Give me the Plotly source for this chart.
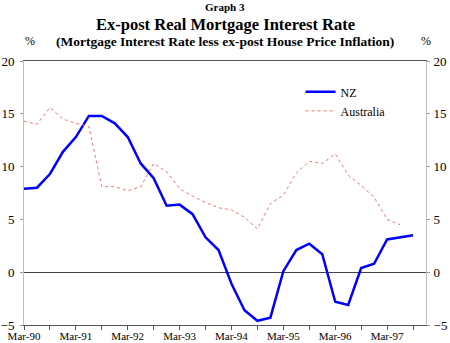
import plotly.graph_objects as go

quarters = [f"{m}-{y:02d}" for y in range(90, 98) for m in ("Mar", "Jun", "Sep", "Dec")]
tick_labels = ["Mar-90", "", "Mar-91", "", "Mar-92", "", "Mar-93", "", "Mar-94", "",
               "Mar-95", "", "Mar-96", "", "Mar-97", ""]

nz = [7.9, 8.0, 9.3, 11.4, 12.8, 14.8, 14.8, 14.1, 12.8, 10.3, 8.9, 6.3, 6.4, 5.5, 3.3, 2.1,
      -1.1, -3.6, -4.6, -4.3, 0.1, 2.1, 2.7, 1.7, -2.8, -3.1, 0.4, 0.8, 3.1, 3.3, 3.5]
australia = [14.3, 14.0, 15.6, 14.5, 14.1, 13.8, 8.1, 8.1, 7.7, 8.1, 10.3, 9.5, 7.9, 7.2, 6.6, 6.1,
             5.9, 5.2, 4.1, 6.5, 7.3, 9.4, 10.5, 10.3, 11.2, 9.2, 8.2, 7.1, 5.0, 4.5]

FONT = "Liberation Serif"

fig = go.Figure()
fig.add_trace(go.Scatter(x=quarters[:len(nz)], y=nz, name="NZ", mode="lines",
                         line=dict(color="#0000ff", width=2.5)))
fig.add_trace(go.Scatter(x=quarters[:len(australia)], y=australia, name="Australia", mode="lines",
                         line=dict(color="#ff7272", width=1, dash="dot")))
fig.add_trace(go.Scatter(x=quarters[:len(nz)], y=nz, yaxis="y2", mode="lines",
                         line=dict(width=0), opacity=0, showlegend=False, hoverinfo="skip"))

fig.update_layout(
    width=450, height=343,
    margin=dict(l=24, r=24, t=61, b=18),
    paper_bgcolor="white", plot_bgcolor="white",
    font=dict(family=FONT, size=12, color="black"),
    showlegend=True,
    legend=dict(x=0.688, y=0.938, xanchor="left", yanchor="top",
                bgcolor="rgba(0,0,0,0)", font=dict(family=FONT, size=12),
                itemwidth=30, tracegroupgap=0),
    xaxis=dict(type="category", categoryorder="array", categoryarray=quarters,
               range=[0, 31], tickvals=quarters[::2], ticktext=tick_labels,
               ticks="outside", ticklen=4, tickcolor="#555", showgrid=False,
               showline=True, linecolor="#555", linewidth=1, mirror=True,
               tickfont=dict(family=FONT, size=11), zeroline=False,
               ticklabelstandoff=-3, automargin=False),
    yaxis=dict(range=[-5, 20], dtick=5, showgrid=False, zeroline=True,
               zerolinecolor="#444", zerolinewidth=1, showline=True,
               linecolor="#b8bcd8", linewidth=1, ticks="outside", ticklen=3,
               tickcolor="#999", tickfont=dict(family=FONT, size=13),
               ticklabelstandoff=3, automargin=False),
    yaxis2=dict(range=[-5, 20], dtick=5, overlaying="y", side="right",
                showgrid=False, zeroline=False, showline=True,
                linecolor="#b8bcd8", linewidth=1, ticks="outside", ticklen=3,
                tickcolor="#999", tickfont=dict(family=FONT, size=13),
                ticklabelstandoff=1, automargin=False),
)

annotations = [
    dict(text="<b>Graph 3</b>", x=0.5, y=1.205, size=11),
    dict(text="<b>Ex-post Real Mortgage Interest Rate</b>", x=0.5, y=1.14, size=16.5),
    dict(text="<b>(Mortgage Interest Rate less ex-post House Price Inflation)</b>", x=0.5, y=1.074, size=13.5),
    dict(text="%", x=0.015, y=1.074, size=12),
    dict(text="%", x=1.0, y=1.074, size=12),
]
for a in annotations:
    fig.add_annotation(text=a["text"], x=a["x"], y=a["y"], xref="paper", yref="paper",
                       xanchor="center", yanchor="middle", showarrow=False,
                       font=dict(family=FONT, size=a["size"], color="black"))

fig.write_html("out.html")
